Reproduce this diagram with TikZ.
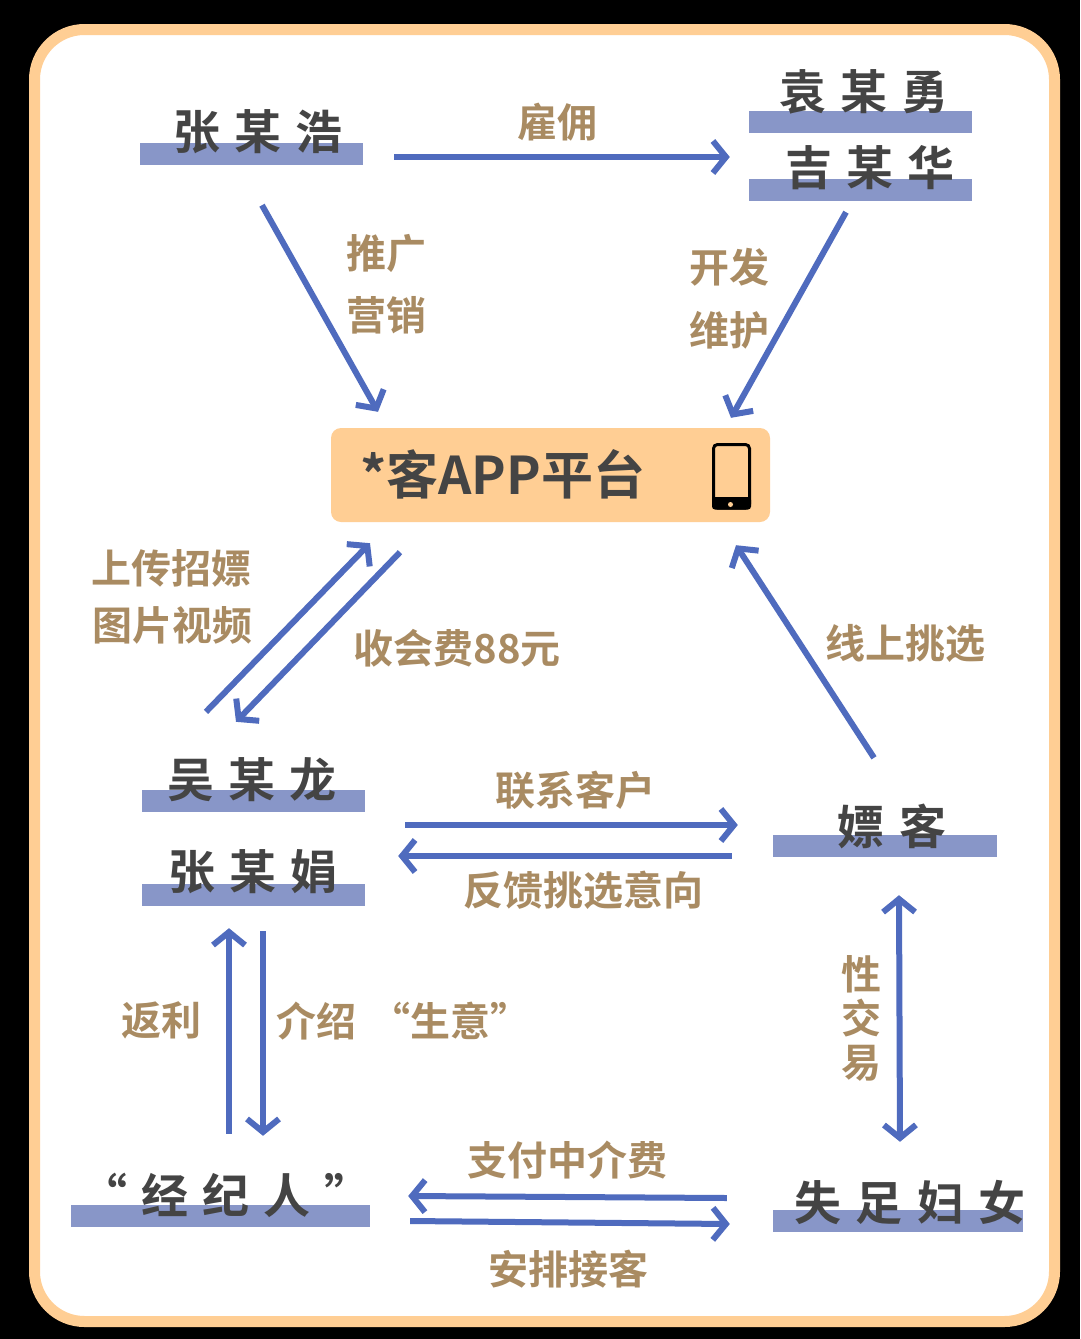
\documentclass[tikz,border=0pt]{standalone}
\usepackage{fontspec}
\usetikzlibrary{arrows.meta}
\setmainfont{Noto Sans CJK SC}
\newfontfamily\cjkname[LetterSpace=30,BoldFont={Noto Sans CJK SC Bold}]{Noto Sans CJK SC}
\newfontfamily\cjklabel[BoldFont={Noto Sans CJK SC Bold}]{Noto Sans CJK SC}
\definecolor{frameorange}{HTML}{FFCE94}
\definecolor{barblue}{HTML}{8896C8}
\definecolor{arrowblue}{HTML}{4F6BBE}
\definecolor{inkdark}{HTML}{444444}
\definecolor{labeltan}{HTML}{A98B62}
\tikzset{
  x=1pt,y=-1pt,
  bar/.style={fill=barblue,draw=none,inner sep=0pt,minimum width=#1,minimum height=22pt},
  namelabel/.style={inner sep=0pt,text=inkdark,font=\cjkname\bfseries\fontsize{47}{50}\selectfont},
  tanlabel/.style={inner sep=0pt,text=labeltan,font=\cjklabel\bfseries\fontsize{40}{44}\selectfont,align=center},
  link/.style={draw=arrowblue,line width=6pt,-{Straight Barb[length=13pt,width=32pt,line width=6pt]}},
  linkboth/.style={draw=arrowblue,line width=6pt,{Straight Barb[length=13pt,width=32pt,line width=6pt]}-{Straight Barb[length=13pt,width=32pt,line width=6pt]}}
}
\begin{document}
\begin{tikzpicture}
\useasboundingbox (0,0) rectangle (1080,1339);
\fill[black] (0,0) rectangle (1080,1339);
\draw[draw=frameorange,fill=white,line width=11pt,rounded corners=50pt] (34.5,29.5) rectangle (1054.5,1321.5);
% bars
\node[bar=223pt] (zhangbar) at (251.5,154) {};
\node[bar=223pt] (yuanbar) at (860.5,122) {};
\node[bar=223pt] (jibar) at (860.5,190) {};
\node[bar=223pt] (wubar) at (253.5,801) {};
\node[bar=223pt] (zjbar) at (253.5,895) {};
\node[bar=224pt] (piaobar) at (885,846) {};
\node[bar=299pt] (jingbar) at (220.5,1216) {};
\node[bar=250pt] (shizubar) at (898,1221) {};
% names
\node[namelabel] (zhang) at (258,132) {张某浩};
\node[namelabel] (yuan) at (864,92) {袁某勇};
\node[namelabel] (ji) at (870,168) {吉某华};
\node[namelabel] (wu) at (252,780) {吴某龙};
\node[namelabel] (zj) at (253,872) {张某娟};
\node[namelabel] (piao) at (892,826) {嫖客};
\node[namelabel] (jing) at (226,1195) {“经纪人”};
\node[namelabel] (shizu) at (910,1203) {失足妇女};
% platform
\node[fill=frameorange,rounded corners=10pt,minimum width=439pt,minimum height=94pt,inner sep=0pt] (platform) at (550.5,475) {};
\node[anchor=west,inner sep=0pt,text=inkdark,font=\cjklabel\bfseries\fontsize{52}{54}\selectfont] (title) at (360,474) {*客APP平台};
\draw[black,line width=3pt,rounded corners=4pt] (713.5,444.5) rectangle (749.5,508);
\fill[black,rounded corners=3pt] (712,497) rectangle (751,509.5);
\fill[frameorange] (730.5,504.5) circle (2.5pt);
% labels
\node[tanlabel] (l1) at (557,122) {雇佣};
\node[tanlabel] (l2) at (386,253) {推广};
\node[tanlabel] (l3) at (386,315) {营销};
\node[tanlabel] (l4) at (729,267) {开发};
\node[tanlabel] (l5) at (729,330) {维护};
\node[tanlabel] (l6) at (171,568) {上传招嫖};
\node[tanlabel] (l7) at (172,625) {图片视频};
\node[tanlabel] (l8) at (457,648) {收会费88元};
\node[tanlabel] (l9) at (905,643) {线上挑选};
\node[tanlabel] (l10) at (575,790) {联系客户};
\node[tanlabel] (l11) at (583,890) {反馈挑选意向};
\node[tanlabel] (l12) at (161,1020) {返利};
\node[tanlabel,anchor=west] (l13) at (276,1021) {介绍\hspace{14pt}“生意”};
\node[tanlabel] (l14) at (861,1018) {性\\交\\易};
\node[tanlabel] (l15) at (567,1160) {支付中介费};
\node[tanlabel] (l16) at (568,1269) {安排接客};
% connectors
\draw[link] ([shift={(31,3)}]zhangbar.east) -- ([shift={(-19,-33)}]jibar.west);
\draw[link] ([shift={(10.5,40)}]zhangbar.south) -- ([shift={(-172.5,-16)}]platform.north);
\draw[link] ([shift={(-14.5,11)}]jibar.south) -- ([shift={(180.5,-10)}]platform.north);
\draw[link] ([shift={(-47.5,-78)}]wubar.north) -- ([shift={(-180.5,21)}]platform.south);
\draw[link] ([shift={(-150.5,30)}]platform.south) -- ([shift={(-17.5,-68)}]wubar.north);
\draw[link] ([shift={(-11,-77)}]piaobar.north) -- ([shift={(185.5,23)}]platform.south);
\draw[link] ([shift={(40,24)}]wubar.east) -- ([shift={(-35,-21)}]piaobar.west);
\draw[link] ([shift={(-41,10)}]piaobar.west) -- ([shift={(33,-39)}]zjbar.east);
\draw[link] ([shift={(8.5,-71)}]jingbar.north) -- ([shift={(-24.5,22)}]zjbar.south);
\draw[link] ([shift={(9.5,25)}]zjbar.south) -- ([shift={(42.5,-69)}]jingbar.north);
\draw[linkboth] ([shift={(14,38)}]piaobar.south) -- ([shift={(2,-68)}]shizubar.north);
\draw[link] ([shift={(-46,-23)}]shizubar.west) -- ([shift={(38,-20)}]jingbar.east);
\draw[link] ([shift={(40,5)}]jingbar.east) -- ([shift={(-43,3)}]shizubar.west);
\end{tikzpicture}
\end{document}
